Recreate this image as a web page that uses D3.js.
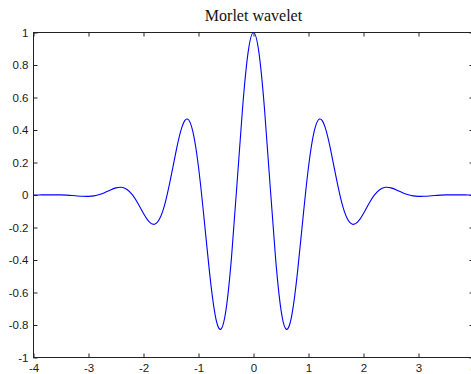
<!DOCTYPE html>
<html>
<head>
<meta charset="utf-8">
<script src="https://cdn.jsdelivr.net/npm/d3@7"></script>
<style>
  body { margin: 0; background: #fff; overflow: hidden; }
  svg { display: block; }
  .tick text { font-family: "Liberation Sans", Arial, sans-serif; font-size: 11.5px; fill: #1a1a1a; }
</style>
</head>
<body>
<svg></svg>
<script>
//constants
const W = 471, H = 374;
const plot = {left: 33.5, right: 473.5, top: 32.5, bottom: 357.5};

//data
const xs = [-4.0, -3.9, -3.8, -3.7, -3.6, -3.5, -3.4, -3.3, -3.2, -3.1,
            -3.0, -2.9, -2.8, -2.7, -2.6, -2.5, -2.4, -2.3, -2.2, -2.1,
            -2.0, -1.9, -1.8, -1.7, -1.6, -1.5, -1.4, -1.3, -1.2, -1.1,
            -1.0, -0.9, -0.8, -0.7, -0.6, -0.5, -0.4, -0.3, -0.2, -0.1,
             0.0,
             0.1, 0.2, 0.3, 0.4, 0.5, 0.6, 0.7, 0.8, 0.9, 1.0,
             1.1, 1.2, 1.3, 1.4, 1.5, 1.6, 1.7, 1.8, 1.9, 2.0,
             2.1, 2.2, 2.3, 2.4, 2.5, 2.6, 2.7, 2.8, 2.9, 3.0,
             3.1, 3.2, 3.3, 3.4, 3.5, 3.6, 3.7, 3.8, 3.9, 4.0];
const ys = [0.0001, 0.0003, 0.0007, 0.0010, 0.0010, 0.0005, -0.0009, -0.0030, -0.0057, -0.0080,
            -0.0084, -0.0053, 0.0027, 0.0155, 0.0309, 0.0438, 0.0474, 0.0343, 0.0004, -0.0524,
            -0.1136, -0.1640, -0.1803, -0.1419, -0.0405, 0.1125, 0.2829, 0.4195, 0.4674, 0.3870,
            0.1721, -0.1406, -0.4746, -0.7330, -0.8269, -0.7070, -0.3841, 0.0676, 0.5296, 0.8732,
            1.0000,
            0.8732, 0.5296, 0.0676, -0.3841, -0.7070, -0.8269, -0.7330, -0.4746, -0.1406, 0.1721,
            0.3870, 0.4674, 0.4195, 0.2829, 0.1125, -0.0405, -0.1419, -0.1803, -0.1640, -0.1136,
            -0.0524, 0.0004, 0.0343, 0.0474, 0.0438, 0.0309, 0.0155, 0.0027, -0.0053, -0.0084,
            -0.0080, -0.0057, -0.0030, -0.0009, 0.0005, 0.0010, 0.0010, 0.0007, 0.0003, 0.0001];
const xTicks = [-4, -3, -2, -1, 0, 1, 2, 3, 4];
const yTicks = [-1, -0.8, -0.6, -0.4, -0.2, 0, 0.2, 0.4, 0.6, 0.8, 1];
const title = "Morlet wavelet";

//scales
const x = d3.scaleLinear().domain([-4, 4]).range([plot.left, plot.right]);
const y = d3.scaleLinear().domain([-1, 1]).range([plot.bottom, plot.top]);

const svg = d3.select("svg").attr("width", W).attr("height", H);

//box
svg.append("rect")
    .attr("x", plot.left).attr("y", plot.top)
    .attr("width", plot.right - plot.left).attr("height", plot.bottom - plot.top)
    .attr("fill", "#fff").attr("stroke", "#222").attr("stroke-width", 1);

//curve
const line = d3.line()
    .x((d, i) => x(xs[i]))
    .y(d => y(d))
    .curve(d3.curveNatural);

svg.append("path")
    .datum(ys)
    .attr("fill", "none")
    .attr("stroke", "#0000ff")
    .attr("stroke-width", 1.1)
    .attr("d", line);

//axes, ticks inside like matlab, plain hyphen for minus
function fmt(d) { return String(+d.toFixed(1)); }

svg.append("g")
    .attr("transform", "translate(0," + plot.bottom + ")")
    .call(d3.axisTop(x).tickValues(xTicks).tickSize(4).tickSizeOuter(0).tickFormat(""));
const gBl = svg.append("g")
    .attr("transform", "translate(0," + plot.bottom + ")")
    .call(d3.axisBottom(x).tickValues(xTicks).tickSize(0).tickSizeOuter(0).tickFormat(fmt));
gBl.selectAll("text").attr("dy", "0.71em").attr("y", 6);

svg.append("g")
    .attr("transform", "translate(0," + plot.top + ")")
    .call(d3.axisBottom(x).tickValues(xTicks).tickSize(4).tickSizeOuter(0).tickFormat(""));

svg.append("g")
    .attr("transform", "translate(" + plot.left + ",0)")
    .call(d3.axisRight(y).tickValues(yTicks).tickSize(4).tickSizeOuter(0).tickFormat(""));
svg.append("g")
    .attr("transform", "translate(" + plot.left + ",0)")
    .call(d3.axisLeft(y).tickValues(yTicks).tickSize(0).tickPadding(5).tickSizeOuter(0).tickFormat(fmt));

svg.append("g")
    .attr("transform", "translate(" + plot.right + ",0)")
    .call(d3.axisLeft(y).tickValues(yTicks).tickSize(4).tickSizeOuter(0).tickFormat(""));

svg.selectAll(".domain").remove();
svg.selectAll(".tick line").attr("stroke", "#222");

//title
svg.append("text")
    .attr("x", (plot.left + plot.right) / 2)
    .attr("y", 21)
    .attr("text-anchor", "middle")
    .style("font-family", "'Liberation Serif', 'Times New Roman', serif")
    .style("font-size", "16px")
    .style("fill", "#111")
    .text(title);
</script>
</body>
</html>
